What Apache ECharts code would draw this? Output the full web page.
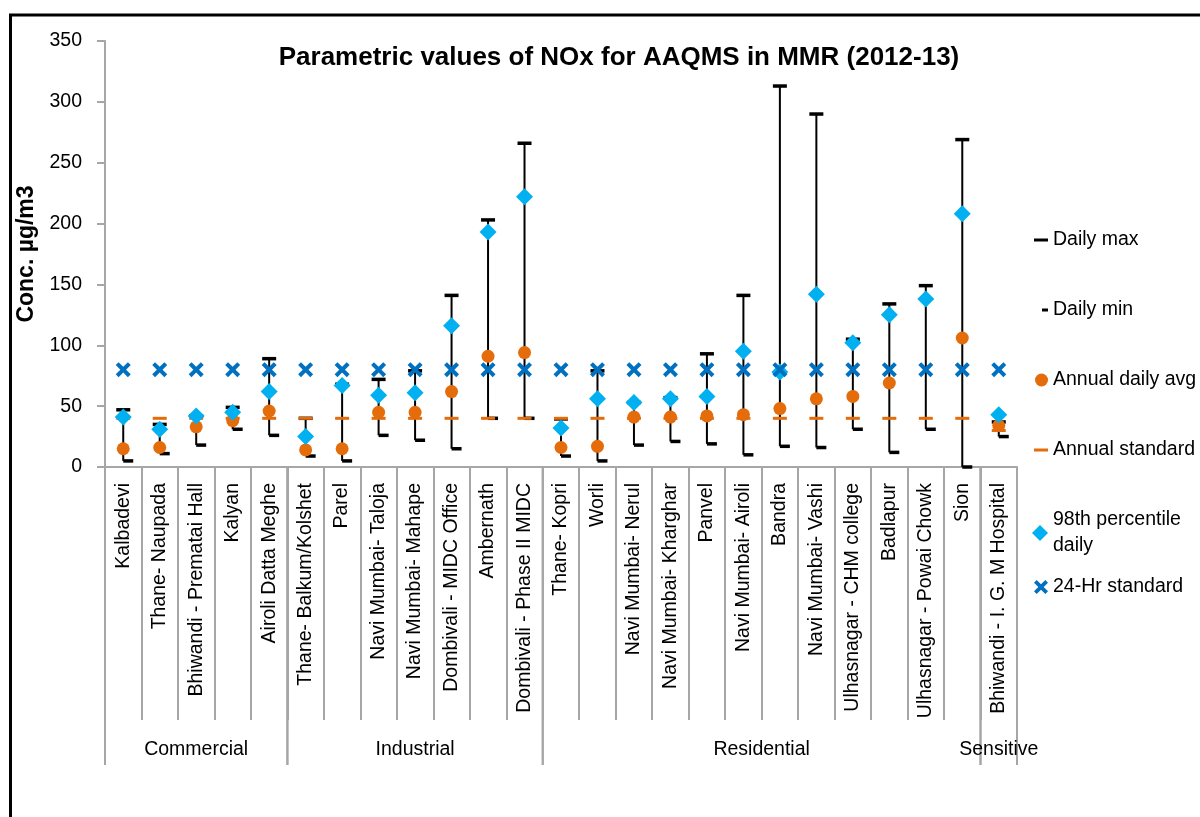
<!DOCTYPE html>
<html>
<head>
<meta charset="utf-8">
<script src="https://cdn.jsdelivr.net/npm/echarts@6/dist/echarts.min.js"></script>
<style>
html,body{margin:0;padding:0;background:#fff;}
#chart{width:1200px;height:817px;}
</style>
</head>
<body>
<div id="chart"></div>
<script>
// ---- data ----
const categories = [
  'Kalbadevi', 'Thane- Naupada', 'Bhiwandi - Prematai Hall', 'Kalyan', 'Airoli Datta Meghe',
  'Thane- Balkum/Kolshet', 'Parel', 'Navi Mumbai- Taloja', 'Navi Mumbai- Mahape', 'Dombivali - MIDC Office', 'Ambernath', 'Dombivali - Phase II MIDC',
  'Thane- Kopri', 'Worli', 'Navi Mumbai- Nerul', 'Navi Mumbai- Kharghar', 'Panvel', 'Navi Mumbai- Airoli', 'Bandra', 'Navi Mumbai- Vashi', 'Ulhasnagar - CHM college', 'Badlapur', 'Ulhasnagar - Powai Chowk', 'Sion',
  'Bhiwandi - I. G. M Hospital'
];
const groupNames = ['Commercial', 'Industrial', 'Residential', 'Sensitive'];
const groupSizes = [5, 7, 12, 1];

const dailyMax  = [47, 35, 42, 49, 89, 40, 68, 72, 79, 141, 203, 266, 39.5, 79, 53, 57, 93, 141, 313, 290, 105, 134, 149, 269, 37];
const dailyMin  = [5, 11, 18, 31, 26, 9, 5, 26, 22, 15, 40, 40, 9, 5, 18, 21, 19, 10, 17, 16, 31, 12, 31, 0, 25];
const annualAvg = [15, 16, 33, 38, 46, 14, 15, 45, 45, 62, 91, 94, 16, 17, 41, 41, 42, 43, 48, 56, 58, 69, null, 106, 34];
const annualStd = [40, 40, 40, 40, 40, 40, 40, 40, 40, 40, 40, 40, 40, 40, 40, 40, 40, 40, 40, 40, 40, 40, 40, 40, 30];
const pct98     = [41, 31, 42, 45, 62, 25, 67, 59, 61, 116, 193, 222, 32, 56, 53, 56, 58, 95, 78, 142, 102, 125, 138, 208, 43];
const hr24Std   = [80, 80, 80, 80, 80, 80, 80, 80, 80, 80, 80, 80, 80, 80, 80, 80, 80, 80, 80, 80, 80, 80, 80, 80, 80];
const yTicks = { min: 0, max: 350, interval: 50 };

// ---- styling ----
const FONT = "'Liberation Sans', Arial, sans-serif";
const FS = 19.5;
const ORANGE = '#E46C0A';
const CYAN = '#00B0F0';
const BLUE = '#0070C0';
const GREY = '#A6A6A6';
const XPATH = 'path://M3.8,0 L10,6.2 L16.2,0 L20,3.8 L13.8,10 L20,16.2 L16.2,20 L10,13.8 L3.8,20 L0,16.2 L6.2,10 L0,3.8 Z';

const hiLoData = dailyMax.map((v, i) => [i, v, dailyMin[i]]);
let start = 0;
const groupData = groupSizes.map((n, k) => {
  const item = { name: groupNames[k], value: [start, 0, start + n - 1] };
  start += n;
  return item;
});

function legendItem(name, icon, w, h, left, top, extra) {
  return Object.assign({
    data: [{ name: name, icon: icon, itemStyle: { opacity: 1 } }],
    orient: 'vertical',
    left: left, top: top,
    itemWidth: w, itemHeight: h,
    padding: 0,
    selectedMode: false,
    textStyle: { fontFamily: FONT, fontSize: FS, color: '#000', lineHeight: 26 }
  }, extra || {});
}

const chart = echarts.init(document.getElementById('chart'));
chart.setOption({
  animation: false,
  backgroundColor: '#fff',
  title: {
    text: 'Parametric values of NOx for AAQMS in MMR (2012-13)',
    left: 614, top: 40, textAlign: 'center',
    textStyle: { fontFamily: FONT, fontSize: 26, fontWeight: 'bold', color: '#000' }
  },
  grid: { left: 105, right: 183, top: 41, bottom: 350, containLabel: false },
  legend: [
    legendItem('Daily max', 'rect', 14, 3, 1034, 227),
    legendItem('Daily min', 'rect', 6, 3, 1042, 297),
    legendItem('Annual daily avg', 'circle', 13, 13, 1035, 367),
    legendItem('Annual standard', 'rect', 14, 3, 1034, 437),
    legendItem('98th percentile daily', 'diamond', 16, 16, 1032, 507, {
      formatter: function () { return '98th percentile\ndaily'; }
    }),
    legendItem('24-Hr standard', XPATH, 14, 14, 1034, 574)
  ],
  xAxis: {
    type: 'category',
    data: categories,
    boundaryGap: true,
    axisLine: { show: true, lineStyle: { color: GREY, width: 2 } },
    axisTick: { show: true, interval: 0, length: 253, lineStyle: { color: GREY, width: 2 } },
    axisLabel: {
      interval: 0, rotate: 90, margin: 16,
      fontFamily: FONT, fontSize: FS, color: '#000'
    },
    splitLine: { show: false }
  },
  yAxis: {
    type: 'value',
    min: yTicks.min, max: yTicks.max, interval: yTicks.interval,
    name: 'Conc. µg/m3',
    nameLocation: 'middle', nameRotate: 90, nameGap: 60,
    nameTextStyle: { fontFamily: FONT, fontSize: 23, fontWeight: 'bold', color: '#000' },
    axisLine: { show: true, lineStyle: { color: GREY, width: 2 } },
    axisTick: { show: true, length: 8, lineStyle: { color: GREY, width: 2 } },
    axisLabel: { margin: 23, fontFamily: FONT, fontSize: FS, color: '#000' },
    splitLine: { show: false }
  },
  graphic: [{
    type: 'rect', silent: true, z: 100,
    shape: { x: 10.5, y: 15, width: 1400, height: 1000 },
    style: { fill: 'none', stroke: '#000', lineWidth: 3 }
  }],
  series: [
    {
      name: 'hilo', type: 'custom', z: 1, silent: true,
      data: hiLoData,
      encode: { x: 0, y: [1, 2] },
      renderItem: function (params, api) {
        const p1 = api.coord([api.value(0), api.value(1)]);
        const p2 = api.coord([api.value(0), api.value(2)]);
        return { type: 'line', shape: { x1: p1[0], y1: p1[1], x2: p2[0], y2: p2[1] },
                 style: { stroke: '#000', lineWidth: 2 } };
      }
    },
    {
      name: 'groups', type: 'custom', z: 2, silent: true, clip: false,
      data: groupData,
      encode: { x: [0, 2], y: 1 },
      renderItem: function (params, api) {
        const a = api.coord([api.value(0), 0]);
        const b = api.coord([api.value(2), 0]);
        const bw = api.size([1, 0])[0];
        const xl = a[0] - bw / 2, xr = b[0] + bw / 2, y0 = a[1];
        return {
          type: 'group',
          children: [
            { type: 'line', shape: { x1: xl, y1: y0, x2: xl, y2: y0 + 298 }, style: { stroke: GREY, lineWidth: 2 } },
            { type: 'line', shape: { x1: xr, y1: y0, x2: xr, y2: y0 + 298 }, style: { stroke: GREY, lineWidth: 2 } },
            { type: 'text', style: { text: groupNames[params.dataIndex], x: (xl + xr) / 2, y: y0 + 283,
              align: 'center', verticalAlign: 'middle', font: FS + 'px ' + FONT, fill: '#000' } }
          ]
        };
      }
    },
    {
      name: 'Daily max', type: 'scatter', z: 3,
      data: dailyMax, symbol: 'rect', symbolSize: [14, 3.5],
      itemStyle: { color: '#000', opacity: 1 }
    },
    {
      name: 'Daily min', type: 'scatter', z: 3,
      data: dailyMin, symbol: 'rect', symbolSize: [10, 3.5], symbolOffset: [5, 0],
      itemStyle: { color: '#000', opacity: 1 }
    },
    {
      name: 'Annual daily avg', type: 'scatter', z: 4,
      data: annualAvg, symbol: 'circle', symbolSize: 13,
      itemStyle: { color: ORANGE, opacity: 1 }
    },
    {
      name: 'Annual standard', type: 'scatter', z: 4,
      data: annualStd, symbol: 'rect', symbolSize: [14, 3],
      itemStyle: { color: ORANGE, opacity: 1 }
    },
    {
      name: '98th percentile daily', type: 'scatter', z: 5,
      data: pct98, symbol: 'diamond', symbolSize: [17, 17],
      itemStyle: { color: CYAN, opacity: 1 }
    },
    {
      name: '24-Hr standard', type: 'scatter', z: 6,
      data: hr24Std, symbol: XPATH, symbolSize: 15,
      itemStyle: { color: BLUE, opacity: 1 }
    }
  ]
});
</script>
</body>
</html>
